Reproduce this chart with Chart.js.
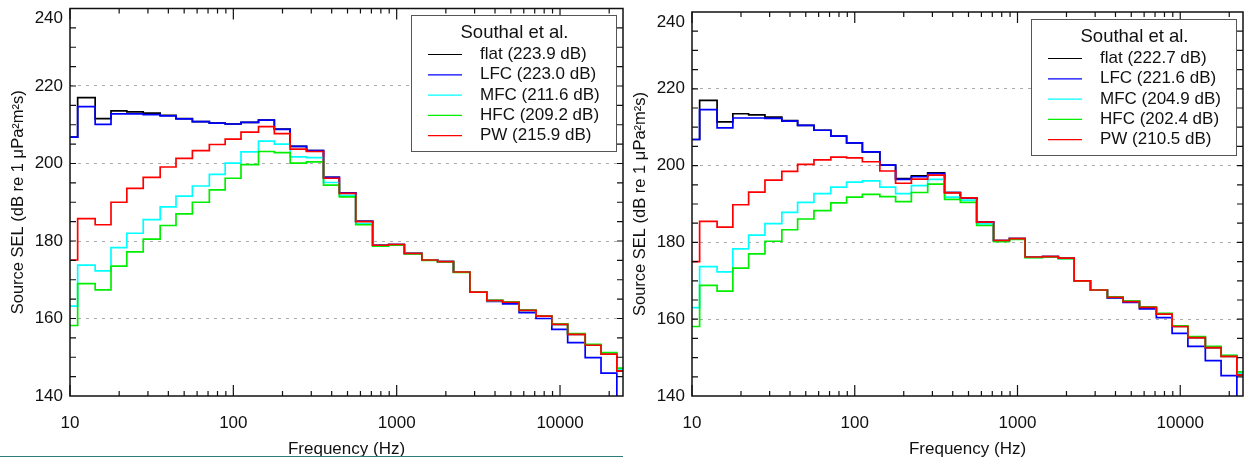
<!DOCTYPE html>
<html>
<head>
<meta charset="utf-8">
<script src="https://cdn.jsdelivr.net/npm/chart.js@4/dist/chart.umd.min.js"></script>
<style>
body{margin:0;background:#fff;width:1244px;height:459px;overflow:hidden;position:relative}
canvas{position:absolute;top:0}
#rule{position:absolute;left:0;top:456px;width:623px;height:1px;background:#2e7d7b}
</style>
</head>
<body>
<canvas id="leftChart" width="625" height="459" style="left:0"></canvas>
<canvas id="rightChart" width="622" height="459" style="left:622px"></canvas>
<div id="rule"></div>
<script>
// third-octave band centres (Hz)
const bands = [10,12.5,16,20,25,31.5,40,50,63,80,100,125,160,200,250,315,400,500,630,800,
  1000,1250,1600,2000,2500,3150,4000,5000,6300,8000,10000,12500,16000,20000,25000];

const xTickValues = [10, 100, 1000, 10000];
const xTickLabels = ['10', '100', '1000', '10000'];
const legendTitle = 'Southal et al.';

// left panel
const leftFlat = [206.8,217.0,211.6,213.6,213.3,213.0,212.4,211.6,210.8,210.4,210.2,210.6,211.2,208.9,204.4,203.3,196.4,192.4,185.1,178.9,
  179.1,176.8,175.1,174.7,172.0,166.8,164.6,164.2,162.1,160.6,158.5,155.9,153.1,150.8,146.5];
const leftLFC = [206.8,214.7,210.1,212.8,212.8,212.6,212.3,211.5,210.8,210.4,210.2,210.6,211.2,208.8,204.4,203.3,196.4,192.4,185.1,178.9,
  179.1,176.8,175.1,174.7,172.0,166.8,164.4,163.8,161.5,160.0,157.2,153.8,149.9,145.9,135.0];
const leftMFC = [163.2,173.8,172.3,178.3,182.0,185.5,188.8,191.6,194.2,197.2,200.1,203.0,205.8,205.0,201.7,201.5,195.1,191.8,184.5,178.8,
  179.0,176.8,175.1,174.7,172.0,166.8,164.6,164.2,162.1,160.6,158.5,156.0,153.2,151.0,146.9];
const leftHFC = [158.2,169.0,167.4,173.5,177.2,180.5,184.0,187.0,190.0,193.2,196.2,199.7,203.1,202.8,200.1,200.4,194.4,191.4,184.2,178.7,
  178.9,176.7,175.0,174.6,171.9,166.8,164.7,164.3,162.2,160.7,158.6,156.1,153.3,151.2,147.2];
const leftPW = [175.1,185.8,184.2,190.0,193.6,196.4,199.1,201.3,203.3,204.9,206.3,208.1,209.5,207.7,203.7,203.1,196.2,192.3,185.0,178.9,
  179.1,176.8,175.1,174.7,172.0,166.8,164.6,164.2,162.1,160.6,158.5,155.9,153.1,150.8,146.5];
const leftLabels = ['flat (223.9 dB)', 'LFC (223.0 dB)', 'MFC (211.6 dB)', 'HFC (209.2 dB)', 'PW (215.9 dB)'];

// right panel
const rightFlat = [206.8,217.0,211.4,213.5,213.2,212.6,211.7,210.5,209.2,207.7,205.9,203.6,200.1,196.6,197.3,198.1,193.0,191.6,185.3,180.5,
  181.0,176.2,176.3,175.9,170.0,167.6,165.7,164.6,163.1,161.3,158.1,155.2,152.6,150.3,145.5];
const rightLFC = [206.8,214.6,209.8,212.4,212.4,212.3,211.6,210.5,209.2,207.7,205.9,203.6,200.1,196.4,197.1,197.9,193.0,191.6,185.3,180.5,
  181.0,176.2,176.3,175.9,170.0,167.6,165.5,164.4,162.7,160.4,156.3,152.9,149.2,145.3,135.0];
const rightMFC = [163.0,173.7,172.3,178.3,181.9,184.9,187.8,190.4,192.7,194.4,195.7,196.0,194.4,192.7,194.8,196.4,191.8,191.0,184.8,180.3,
  180.9,176.1,176.2,175.8,170.0,167.6,165.7,164.7,163.2,161.4,158.2,155.4,152.8,150.5,145.9];
const rightHFC = [158.1,168.8,167.3,173.3,177.0,180.3,183.3,186.1,188.3,190.3,191.8,192.5,191.9,190.6,193.0,195.2,191.2,190.4,184.4,180.2,
  180.8,176.0,176.2,175.8,170.0,167.6,165.8,164.7,163.2,161.5,158.3,155.5,152.9,150.6,146.3];
const rightPW = [175.0,185.5,184.0,189.8,193.1,196.2,198.5,200.3,201.5,202.2,202.0,201.0,198.6,195.4,196.5,197.5,192.9,191.6,185.3,180.5,
  181.0,176.2,176.3,175.9,170.0,167.6,165.7,164.6,163.1,161.3,158.1,155.2,152.6,150.3,145.5];
const rightLabels = ['flat (222.7 dB)', 'LFC (221.6 dB)', 'MFC (204.9 dB)', 'HFC (202.4 dB)', 'PW (210.5 dB)'];

const colors = ['#000000', '#0000ff', '#00ffff', '#00ee00', '#ff0000'];
const FONT = '"Liberation Sans", Arial, Helvetica, sans-serif';
Chart.defaults.font.family = FONT;
Chart.defaults.color = '#111';

// band values -> step points at lower band edges, plus the last upper edge
const half = Math.pow(10, 1 / 20);
function toSteps(vals) {
  const pts = bands.map((f, i) => ({x: f / half, y: vals[i]}));
  pts.push({x: bands[bands.length - 1] * half, y: vals[vals.length - 1]});
  return pts;
}

const frame = {
  id: 'frame',
  afterDatasetsDraw(chart) {
    const {ctx, chartArea: a, scales: {x, y}} = chart;
    ctx.save();
    ctx.strokeStyle = '#111';
    ctx.lineWidth = 1.2;
    ctx.beginPath();
    for (let d = 10; d <= 10000; d *= 10) {
      for (let m = 1; m < 10; m++) {
        const v = d * m;
        if (v > x.max) break;
        const px = x.getPixelForValue(v);
        const len = m === 1 ? 11 : 5;
        ctx.moveTo(px, a.bottom); ctx.lineTo(px, a.bottom - len);
        ctx.moveTo(px, a.top); ctx.lineTo(px, a.top + len);
      }
    }
    for (let v = 145; v < 240; v += 5) {
      const py = y.getPixelForValue(v);
      ctx.moveTo(a.left, py); ctx.lineTo(a.left + 6, py);
      ctx.moveTo(a.right, py); ctx.lineTo(a.right - 6, py);
    }
    ctx.stroke();
    ctx.lineWidth = 1.5;
    ctx.strokeRect(a.left, a.top, a.right - a.left, a.bottom - a.top);
    ctx.restore();
  }
};

const legendBox = {
  id: 'legendBox',
  afterDraw(chart) {
    const {ctx, chartArea: a} = chart;
    const w = 205, h = 136;
    const bx = Math.round(a.right - 7 - w), by = Math.round(a.top + 6.5);
    ctx.save();
    ctx.fillStyle = '#fff';
    ctx.fillRect(bx, by, w, h);
    ctx.strokeStyle = '#555';
    ctx.lineWidth = 1;
    ctx.strokeRect(bx + 0.5, by + 0.5, w, h);
    ctx.fillStyle = '#111';
    ctx.textAlign = 'center';
    ctx.textBaseline = 'middle';
    ctx.font = '18.5px ' + FONT;
    ctx.fillText(legendTitle, bx + w / 2 + 1, by + 17.5);
    ctx.font = '17px ' + FONT;
    ctx.textAlign = 'left';
    chart.data.datasets.forEach((ds, i) => {
      const yy = by + 39.5 + i * 20.3;
      ctx.strokeStyle = ds.borderColor;
      ctx.lineWidth = 1.2;
      ctx.beginPath();
      ctx.moveTo(bx + 17, yy);
      ctx.lineTo(bx + 51, yy);
      ctx.stroke();
      ctx.fillText(ds.label, bx + 69, yy);
    });
    ctx.restore();
  }
};

function makeChart(id, series, labels, top, right) {
  return new Chart(document.getElementById(id), {
    type: 'line',
    data: {
      datasets: series.map((vals, i) => ({
        label: labels[i],
        data: toSteps(vals),
        borderColor: colors[i],
        borderWidth: 1.7,
        pointRadius: 0,
        stepped: true,
        fill: false,
        clip: 0,
        order: series.length - 1 - i
      }))
    },
    options: {
      responsive: false,
      animation: false,
      devicePixelRatio: 1,
      layout: {padding: {left: 0, right: right, top: top, bottom: 0}},
      plugins: {legend: {display: false}, tooltip: {enabled: false}},
      scales: {
        x: {
          type: 'logarithmic',
          min: 10,
          max: 24300,
          afterBuildTicks: s => { s.ticks = xTickValues.map(v => ({value: v})); },
          afterFit: s => { s.height = 63; },
          grid: {display: false},
          border: {display: false},
          ticks: {
            autoSkip: false,
            maxRotation: 0,
            padding: 9,
            font: {size: 17},
            callback: (v, i) => xTickLabels[i]
          },
          title: {display: true, text: 'Frequency (Hz)', font: {size: 17}, padding: {top: 0, bottom: -1}}
        },
        y: {
          min: 140,
          max: 240,
          afterFit: s => { s.width = 70; s.paddingTop = 0; s.paddingBottom = 0; },
          grid: {
            drawTicks: false,
            lineWidth: 1,
            color: c => (c.tick && c.tick.value > 140 && c.tick.value < 240) ? '#aaaaaa' : 'rgba(0,0,0,0)'
          },
          border: {display: false, dash: [3, 5]},
          ticks: {
            stepSize: 20,
            padding: 7,
            font: {size: 17},
            // top label sits a little below the frame, as in the original
            callback: v => v === 240 ? ['', '240'] : String(v)
          },
          title: {display: true, text: 'Source SEL (dB re 1 μPa²m²s)', font: {size: 16.5}, padding: {top: 9, bottom: 0}}
        }
      }
    },
    plugins: [frame, legendBox]
  });
}

makeChart('leftChart', [leftFlat, leftLFC, leftMFC, leftHFC, leftPW], leftLabels, 8.5, 2);
makeChart('rightChart', [rightFlat, rightLFC, rightMFC, rightHFC, rightPW], rightLabels, 12, 1);
</script>
</body>
</html>
